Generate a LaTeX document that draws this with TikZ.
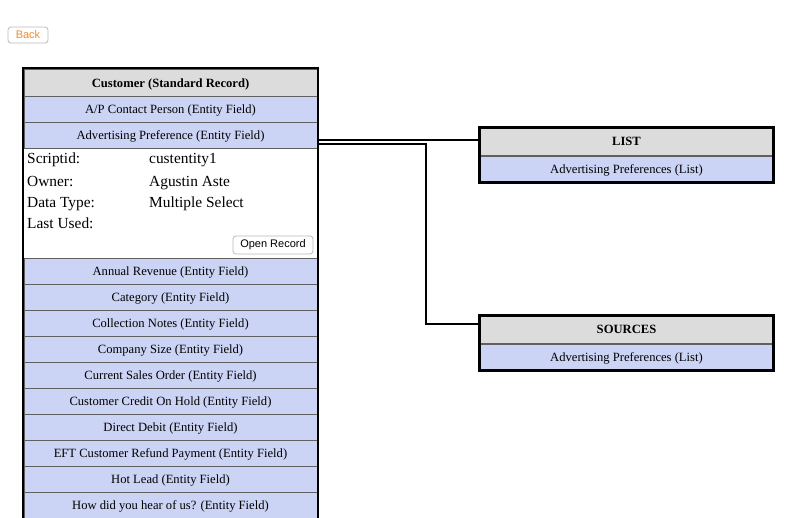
\documentclass[tikz,border=0pt]{standalone}
\usepackage{fontspec}
\setmainfont{Liberation Serif}
\newfontfamily\uifont{Liberation Sans}
\usetikzlibrary{positioning}

\definecolor{rowblue}{HTML}{CCD4F5}
\definecolor{headgrey}{HTML}{DCDCDC}
\definecolor{backorange}{HTML}{F28C28}

\tikzset{
    fieldrow/.style={draw=gray!75!black, line width=1pt, fill=rowblue,
        minimum width=293pt, minimum height=26pt, inner sep=0pt,
        text height=8.5pt, text depth=0pt,
        font=\fontsize{12.6}{14}\selectfont},
    headrow/.style={fieldrow, fill=headgrey, minimum height=27pt,
        font=\fontsize{12.6}{14}\selectfont\bfseries},
    detail/.style={anchor=base west, inner sep=0pt,
        font=\fontsize{15.4}{18}\selectfont},
    uibutton/.style={draw=gray!55, line width=0.8pt, rounded corners=3pt,
        fill=white, inner sep=0pt, font=\uifont\fontsize{11}{13}\selectfont},
    link/.style={line width=2pt},
    frame/.style={line width=2.5pt}
}

\begin{document}
\begin{tikzpicture}[x=1pt,y=-1pt]
\useasboundingbox[fill=white] (0,0) rectangle (800,517);

% back button
\node[uibutton, minimum width=40pt, minimum height=16pt, text=backorange,
      font=\uifont\fontsize{11}{12}\selectfont] (back) at (28,35) {Back};

% customer record
\begin{scope}
    \clip (0,0) rectangle (800,517);
    \node[headrow] (cust) at (170.5,83) {Customer (Standard Record)};
    \node[fieldrow] (apc) at (170.5,109) {A/P Contact Person (Entity Field)};
    \node[fieldrow] (adv) at (170.5,135) {Advertising Preference (Entity Field)};

    \node[detail] (sid) at (27,163) {Scriptid:};
    \node[detail] (own) at (27,186) {Owner:};
    \node[detail] (dtp) at (27,207) {Data Type:};
    \node[detail] (lus) at (27,228) {Last Used:};
    \node[detail] (sidv) at (149,163) {custentity1};
    \node[detail] (ownv) at (149,186) {Agustin Aste};
    \node[detail] (dtpv) at (149,207) {Multiple Select};
    \node[uibutton, minimum width=80pt, minimum height=18pt] (open) at (273,245) {Open Record};

    \foreach \fname [count=\i] in {Annual Revenue, Category, Collection Notes,
        Company Size, Current Sales Order, Customer Credit On Hold, Direct Debit,
        EFT Customer Refund Payment, Hot Lead, How did you hear of us?}
    {
        \node[fieldrow] (row\i) at (170.5,258+26*\i-13) {\fname{} (Entity Field)};
    }
    \draw[frame] (23,68) rectangle (318,540);
\end{scope}

% list boxes
\node[headrow] (listhead) at (626.5,141.5) {LIST};
\node[fieldrow, below=0pt of listhead] (listrow) {Advertising Preferences (List)};
\draw[frame] (listhead.north west) rectangle (listrow.south east);

\node[headrow] (srchead) at (626.5,329.5) {SOURCES};
\node[fieldrow, below=0pt of srchead] (srcrow) {Advertising Preferences (List)};
\draw[frame] (srchead.north west) rectangle (srcrow.south east);

% connectors
\draw[link] ([yshift=-5pt]adv.east) -- ([yshift=-5pt]adv.east -| listhead.west);
\draw[link] ([yshift=-9pt]adv.east) -| (426,324) -- ([yshift=5.5pt]srchead.west);
\end{tikzpicture}
\end{document}
